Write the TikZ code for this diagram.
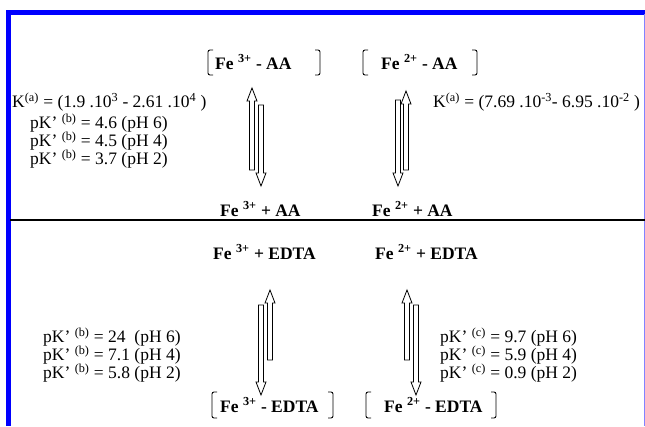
\documentclass[tikz,border=0pt]{standalone}
\usepackage{fontspec}
\setmainfont{Liberation Serif}
\definecolor{frameblue}{RGB}{0,0,255}
\definecolor{framelight}{RGB}{130,130,255}
\newcommand{\sps}[1]{\textsuperscript{#1}}
\tikzset{
  reg/.style={font=\fontsize{17.5}{20}\selectfont, inner sep=0pt, anchor=west},
  bld/.style={font=\fontsize{17.5}{20}\selectfont\bfseries, inner sep=0pt, anchor=west},
  brk/.style={line width=0.9pt, rounded corners=2pt},
  harrow/.style={draw, line width=0.8pt, fill=white},
}
\newcommand{\uparr}[3]{%
  \draw[harrow] (#1-2.5,#2) -- (#1-2.5,#3+13) -- (#1-5,#3+13) -- (#1,#3) -- (#1+5,#3+13) -- (#1+2.5,#3+13) -- (#1+2.5,#2) -- cycle;}
\newcommand{\dnarr}[3]{%
  \draw[harrow] (#1-2.5,#2) -- (#1-2.5,#3-13) -- (#1-5,#3-13) -- (#1,#3) -- (#1+5,#3-13) -- (#1+2.5,#3-13) -- (#1+2.5,#2) -- cycle;}
\newcommand{\lbrk}[3]{\draw[brk] (#1+5,#2) -- (#1,#2) -- (#1,#3) -- (#1+5,#3);}
\newcommand{\rbrk}[3]{\draw[brk] (#1-5,#2) -- (#1,#2) -- (#1,#3) -- (#1-5,#3);}
\begin{document}
\begin{tikzpicture}[x=1pt,y=-1pt]
\useasboundingbox (0,0) rectangle (645,426);
% frame
\fill[frameblue] (6,9.5) rectangle (645,14.5);
\fill[frameblue] (6,9.5) rectangle (10.5,426);
\draw[framelight, line width=1pt] (644,14) -- (644,426);
% divider
\draw[line width=1.2pt] (10,220) -- (645,220);

% top complexes
\lbrk{208}{50}{75} \rbrk{320}{50}{75}
\node[bld] (c3aa) at (215,62) {Fe \sps{3+} - AA};
\lbrk{363}{50}{75} \rbrk{477}{50}{75}
\node[bld] (c2aa) at (381,62) {Fe \sps{2+} - AA};

% left constants (AA)
\node[reg] (kl) at (12,102) {K\sps{(a)} = (1.9 .10\sps{3} - 2.61 .10\sps{4} )};
\node[reg] (pl1) at (30,123) {pK’ \sps{(b)} = 4.6 (pH 6)};
\node[reg] (pl2) at (30,141) {pK’ \sps{(b)} = 4.5 (pH 4)};
\node[reg] (pl3) at (30,159) {pK’ \sps{(b)} = 3.7 (pH 2)};
% right constant (AA)
\node[reg] (kr) at (433,102) {K\sps{(a)} = (7.69 .10\sps{-3}- 6.95 .10\sps{-2} )};

% top arrows
\uparr{252}{170}{88}
\dnarr{261}{105}{186}
\dnarr{398}{100}{186}
\uparr{406}{170}{91}

% free species
\node[bld] (f3aa) at (220,209) {Fe \sps{3+} + AA};
\node[bld] (f2aa) at (372,209) {Fe \sps{2+} + AA};
\node[bld] (f3ed) at (213,252) {Fe \sps{3+} + EDTA};
\node[bld] (f2ed) at (375,252) {Fe \sps{2+} + EDTA};

% bottom arrows
\dnarr{261}{305}{395}
\uparr{270}{360}{290}
\uparr{407}{360}{290}
\dnarr{416}{305}{395}

% bottom constants
\node[reg] (bl1) at (43,337) {pK’ \sps{(b)} = 24~ (pH 6)};
\node[reg] (bl2) at (43,355) {pK’ \sps{(b)} = 7.1 (pH 4)};
\node[reg] (bl3) at (43,373) {pK’ \sps{(b)} = 5.8 (pH 2)};
\node[reg] (br1) at (440,337) {pK’ \sps{(c)} = 9.7 (pH 6)};
\node[reg] (br2) at (440,355) {pK’ \sps{(c)} = 5.9 (pH 4)};
\node[reg] (br3) at (440,373) {pK’ \sps{(c)} = 0.9 (pH 2)};

% bottom complexes
\lbrk{212}{392}{418} \rbrk{333}{392}{418}
\node[bld] (c3ed) at (220,405) {Fe \sps{3+} - EDTA};
\lbrk{366}{392}{418} \rbrk{496}{392}{418}
\node[bld] (c2ed) at (384,405) {Fe \sps{2+} - EDTA};
\end{tikzpicture}
\end{document}
